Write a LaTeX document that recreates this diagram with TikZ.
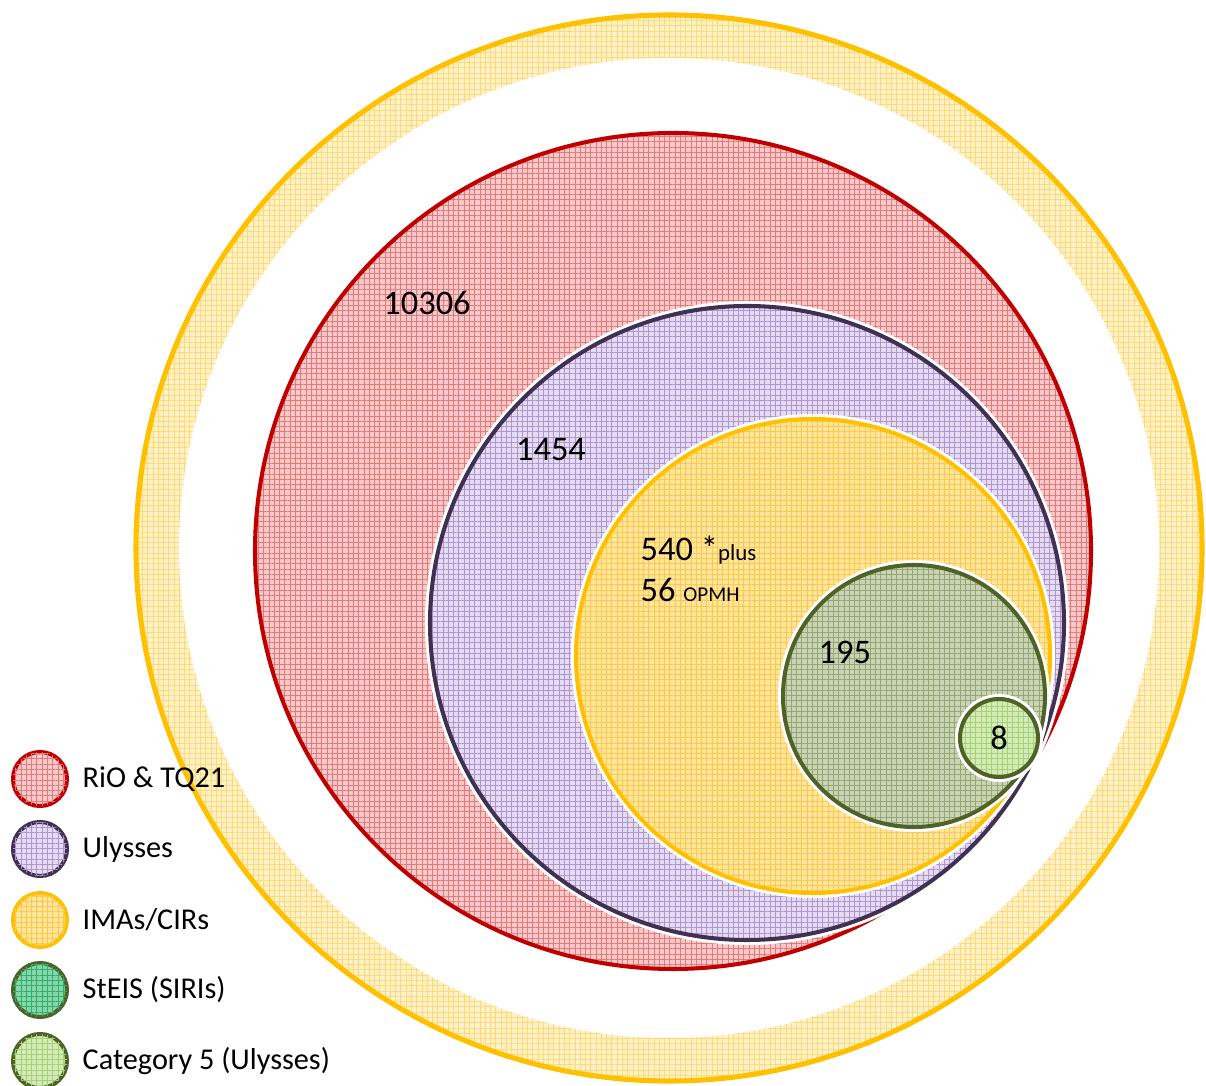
\documentclass[tikz,border=0pt]{standalone}
\usepackage{fontspec}
\setmainfont{Carlito}
\usetikzlibrary{positioning,patterns.meta}

\definecolor{rioline}{HTML}{C00000}
\definecolor{riofill}{HTML}{F6CACA}
\definecolor{riogrid}{HTML}{E57878}
\definecolor{ulyline}{HTML}{403152}
\definecolor{ulyfill}{HTML}{E6DCF1}
\definecolor{ulygrid}{HTML}{AE95CF}
\definecolor{imaline}{HTML}{FFC000}
\definecolor{imafill}{HTML}{FFE69E}
\definecolor{imagrid}{HTML}{FFC84A}
\definecolor{ringfill}{HTML}{FFF1CC}
\definecolor{ringgrid}{HTML}{FFDA70}
\definecolor{steisline}{HTML}{4F6228}
\definecolor{steisfill}{HTML}{C9D4B4}
\definecolor{steisgrid}{HTML}{95A575}
\definecolor{sirifill}{HTML}{86D6AA}
\definecolor{sirigrid}{HTML}{2FAE6C}
\definecolor{catfill}{HTML}{D4EBB7}
\definecolor{catgrid}{HTML}{A4D07A}

\tikzset{
  set_fill/.style 2 args={fill=#1,
    postaction={pattern={Hatch[angle=0,distance=1.5pt,line width=.25pt]},pattern color=#2}},
  set_line/.style={draw=#1,line width=1.15pt},
  leg_dot/.style={circle,minimum size=.54cm,inner sep=0pt,line width=1.15pt},
  leg_txt/.style={font=\fontsize{8.6}{10}\selectfont,inner sep=0pt,anchor=west},
}

\begin{document}
\begin{tikzpicture}[
  x=0.01cm, y=-0.01cm,
  num/.style={font=\fontsize{9.8}{12}\selectfont,inner sep=0pt},
  ]
  \useasboundingbox (0,0) rectangle (1206,1086);

  % centres of the sets
  \coordinate (c_ring) at (669,548);
  \coordinate (c_rio) at (673,551);
  \coordinate (c_uly) at (747,623);
  \coordinate (c_ima) at (813,656);
  \coordinate (c_steis) at (914,696);
  \coordinate (c_cat) at (999,738);

  % outer ring
  \fill[set_fill={ringfill}{ringgrid}] (c_ring) circle[radius=535];
  \fill[white] (c_ring) circle[radius=490];
  \draw[set_line=imaline,line width=1.45pt] (c_ring) circle[radius=533];

  % nested sets
  \foreach \c/\r/\f/\g/\l in {c_rio/418/riofill/riogrid/rioline,
      c_uly/317/ulyfill/ulygrid/ulyline,
      c_ima/237/imafill/imagrid/imaline,
      c_steis/131/steisfill/steisgrid/steisline,
      c_cat/39/catfill/catgrid/steisline}{
    \fill[white] (\c) circle[radius=\r+5];
    \fill[set_fill={\f}{\g}] (\c) circle[radius=\r];
    \draw[set_line=\l] (\c) circle[radius=\r];
  }

  \node[num] (rio_lbl) at (427,303) {10306};
  \node[num] (uly_lbl) at (551,450) {1454};
  \node[num,anchor=base west] (ima_lbl) at (640,561) {540 *{\fontsize{6.5}{7}\selectfont plus}};
  \node[num,anchor=base west] (opmh_lbl) at (640,602) {56 {\fontsize{6}{7}\selectfont OPMH}};
  \node[num,anchor=base west] (steis_lbl) at (818,664) {195};
  \node[num] (cat_lbl) at (c_cat) {8};

  % legend
  \foreach \n/\y/\f/\g/\l/\t in {rio/779/riofill/riogrid/rioline/{RiO \& TQ21},
      uly/849/ulyfill/ulygrid/ulyline/{Ulysses},
      ima/920/imafill/imagrid/imaline/{IMAs/CIRs},
      steis/990/sirifill/sirigrid/steisline/{StEIS (SIRIs)},
      cat/1061/catfill/catgrid/steisline/{Category 5 (Ulysses)}}{
    \node[leg_dot,set_fill={\f}{\g},draw=\l] (leg_\n) at (40,\y) {};
    \node[leg_txt,right=0.13cm of leg_\n] (leg_\n_txt) {\t};
  }
\end{tikzpicture}
\end{document}
